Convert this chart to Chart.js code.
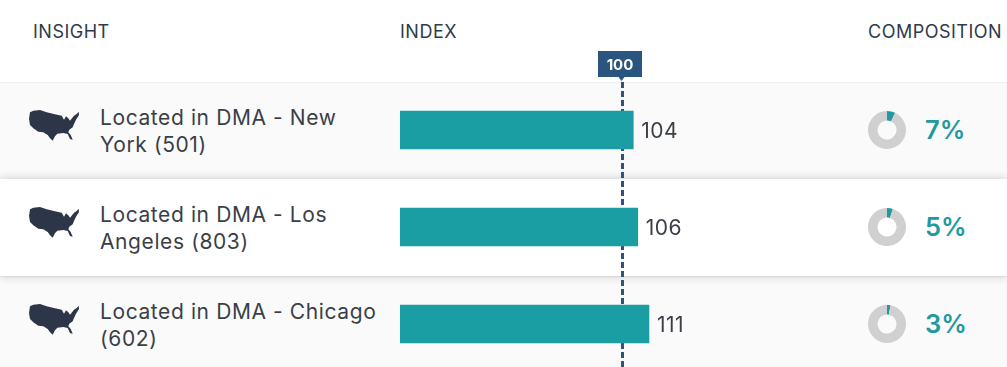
<!DOCTYPE html>
<html>
<head>
<meta charset="utf-8">
<script src="https://cdn.jsdelivr.net/npm/chart.js@4"></script>
<style>
  html, body { margin: 0; padding: 0; background: #fff; }
  body { width: 1007px; height: 367px; overflow: hidden; position: relative; font-family: Inter, sans-serif; color: #333a45; }
  .head { position: absolute; top: 21px; font-size: 18px; line-height: 21px; letter-spacing: .5px; color: #2f3b4c; white-space: nowrap; }
  .row { position: absolute; left: 0; width: 1007px; border-top: 1px solid #eee; box-sizing: border-box; background: #fafafa; }
  .row.raised { background: #fff; border-top: 0; box-shadow: 0 0 9px rgba(0,0,0,.2); z-index: 1; }
  .label { position: absolute; left: 100px; width: 285px; font-size: 21px; line-height: 27px; letter-spacing: .6px; color: #3a3f47; z-index: 2; }
  .map { position: absolute; left: 29px; width: 50px; height: 34px; z-index: 2; }
  .pct { position: absolute; left: 925px; font-size: 25.5px; line-height: 30px; font-weight: 600; color: #22999f; z-index: 2; }
  .donut { position: absolute; left: 868px; z-index: 2; }
  #bars { position: absolute; left: 0; top: 0; z-index: 2; }
</style>
</head>
<body>
<div class="head" style="left:33px">INSIGHT</div>
<div class="head" style="left:400px">INDEX</div>
<div class="head" style="left:868px">COMPOSITION</div>
<div id="rows"></div>
<canvas id="bars" width="1007" height="373"></canvas>
<script>
const insights = ["Located in DMA - New York (501)", "Located in DMA - Los Angeles (803)", "Located in DMA - Chicago (602)"];
const indexValues = [104, 106, 111];
const compositionValues = [7, 5, 3];
const referenceIndex = 100;

const teal = "#1a9ea4";
const navy = "#2a557f";
const rowTop = [82, 179, 276];
const rowHeight = [97, 97, 91];
const usaPath = "M1 2.3 L4.3 .7 L11 0 L17.7 2.3 L26 4.3 L32.7 5.7 L35 9.7 L37 6.3 L39.3 8.3 L41 10.7 L45 5.7 L47.7 4 L49.7 1.7 L50 5 L47 9.7 L45 14 L43.7 17.3 L40.3 19.7 L39.3 22.3 L41.7 25 L43.7 29.7 L41 29 L38.7 24 L34.3 23 L28.3 23.7 L26 26.3 L23.7 30.7 L21 28.3 L18.7 25 L14.3 22.3 L9.3 21.7 L4.3 18.3 L1 15 L0 9 Z";

const rowsEl = document.getElementById("rows");
insights.forEach((name, i) => {
  const top = rowTop[i];
  rowsEl.insertAdjacentHTML("beforeend",
    `<div class="row${i === 1 ? " raised" : ""}" style="top:${top}px;height:${rowHeight[i]}px"></div>` +
    `<svg class="map" style="top:${top + 28}px" viewBox="0 0 50 34"><path d="${usaPath}" fill="#2d3648"/></svg>` +
    `<div class="label" style="top:${top + 22}px">${name}</div>` +
    `<canvas class="donut" id="donut${i}" width="38" height="38" style="top:${top + 29}px"></canvas>` +
    `<div class="pct" style="top:${top + 33}px">${compositionValues[i]}%</div>`);
});

// dashed line + flag for the 100 mark, sits behind the bars
const referenceLine = {
  id: "referenceLine",
  beforeDatasetsDraw(chart) {
    const ctx = chart.ctx;
    const x = Math.round(chart.scales.x.getPixelForValue(referenceIndex) - 2) + .5;
    ctx.save();
    ctx.strokeStyle = navy;
    ctx.lineWidth = 3;
    ctx.setLineDash([6, 3]);
    ctx.beginPath();
    ctx.moveTo(x, 82);
    ctx.lineTo(x, 373);
    ctx.stroke();
    ctx.setLineDash([]);
    ctx.fillStyle = navy;
    ctx.fillRect(x - 24.5, 51, 44, 26);
    ctx.beginPath();
    ctx.moveTo(x - 4, 77);
    ctx.lineTo(x + 2, 77);
    ctx.lineTo(x - 1, 81);
    ctx.fill();
    ctx.fillStyle = "#fff";
    ctx.font = "700 15px Inter, sans-serif";
    ctx.textAlign = "center";
    ctx.textBaseline = "middle";
    ctx.fillText(String(referenceIndex), x - 2.5, 65);
    ctx.restore();
  }
};

const valueLabels = {
  id: "valueLabels",
  afterDatasetsDraw(chart) {
    const ctx = chart.ctx;
    ctx.save();
    ctx.fillStyle = "#3a3f47";
    ctx.font = "400 21px Inter, sans-serif";
    ctx.letterSpacing = ".5px";
    ctx.textBaseline = "middle";
    chart.getDatasetMeta(0).data.forEach((bar, i) => {
      ctx.fillText(String(indexValues[i]), bar.x + 8, bar.y + 2);
    });
    ctx.restore();
  }
};

new Chart(document.getElementById("bars"), {
  type: "bar",
  data: {
    labels: insights,
    datasets: [{ data: indexValues, backgroundColor: teal, barThickness: 38, borderWidth: 0 }]
  },
  options: {
    indexAxis: "y",
    responsive: false,
    animation: false,
    layout: { padding: { left: 400, right: 158.4, top: 81.5, bottom: .5 } },
    scales: {
      x: { min: 0, max: 200, display: false },
      y: { display: false }
    },
    plugins: { legend: { display: false }, tooltip: { enabled: false } }
  },
  plugins: [referenceLine, valueLabels]
});

compositionValues.forEach((value, i) => {
  new Chart(document.getElementById("donut" + i), {
    type: "doughnut",
    data: {
      datasets: [{ data: [value, 100 - value], backgroundColor: ["#22999f", "#d0d0d0"], borderWidth: 0 }]
    },
    options: {
      responsive: false,
      animation: false,
      cutout: "50%",
      plugins: { legend: { display: false }, tooltip: { enabled: false } }
    }
  });
});
</script>
</body>
</html>
